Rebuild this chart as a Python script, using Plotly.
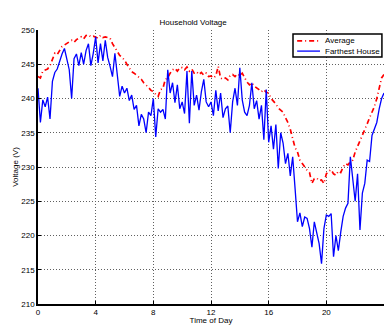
import numpy as np
import plotly.graph_objects as go

# time of day, every 10 minutes
hours = [i / 6 for i in range(145)]

average = [
    243.2, 243.0, 244.0, 244.2, 244.3, 244.8,
    245.8, 246.6, 246.4, 247.0, 247.6, 247.8,
    248.0, 248.3, 248.5, 248.2, 248.6, 248.8,
    249.0, 248.7, 249.2, 249.3, 249.0, 249.1,
    249.0, 248.8, 249.2, 248.9, 249.0, 248.9,
    248.8, 248.0, 247.4, 247.0, 246.3, 246.0,
    245.6, 245.0, 244.5, 243.9, 243.7, 243.4,
    243.0, 242.8, 242.3, 242.0, 241.6, 241.2,
    241.0, 240.6, 240.3, 241.3, 241.5, 242.8,
    243.0, 243.7, 244.2, 244.4, 244.0, 244.5,
    244.5, 244.2, 244.6, 244.0, 244.3, 243.7,
    243.9, 243.5, 243.8, 243.4, 243.7, 243.2,
    243.3, 243.0, 243.3, 244.7, 243.0, 242.8,
    243.0, 242.7, 243.4, 243.5, 243.2, 243.6,
    243.3, 243.7, 243.0, 242.4, 242.0, 242.3,
    241.8, 241.6, 241.3, 241.0, 241.3, 240.9,
    240.8, 240.0, 239.6, 239.2, 238.6, 238.3,
    238.0, 237.2, 236.5, 235.5, 234.0, 232.8,
    232.2, 231.0, 230.5, 230.0, 229.5, 229.2,
    227.6, 228.3, 228.4, 228.0, 228.1, 227.6,
    229.0, 229.4, 229.6, 229.0, 228.8, 229.4,
    229.2, 230.0, 230.5, 230.3, 230.8, 231.0,
    232.2, 233.0, 233.8, 234.5, 235.5, 236.3,
    237.2, 238.0, 238.8, 240.0, 241.5, 243.0,
    243.5,
]

farthest = [
    241.5, 236.5, 239.8, 238.8, 240.2, 237.0,
    242.5, 243.8, 244.3, 245.6, 246.5, 247.3,
    245.5, 244.2, 240.0, 245.8, 246.5, 244.8,
    246.7, 245.0, 247.0, 248.0, 244.8, 246.6,
    249.0, 245.2, 248.0, 245.5, 248.5, 246.0,
    244.7, 243.2, 246.6, 243.7, 240.3, 241.8,
    240.8, 241.5, 239.7, 240.5, 238.4, 239.0,
    236.0, 237.7, 237.0, 235.0, 238.0, 237.5,
    240.0, 234.4, 238.5, 238.0, 238.4, 237.0,
    244.2, 240.8, 242.3, 239.4, 242.0, 238.5,
    239.5, 237.8, 244.0, 236.4, 244.0, 239.0,
    240.5, 238.3, 241.0, 242.8, 239.5, 238.8,
    239.5, 237.5, 241.2, 238.2, 240.8, 237.2,
    238.5, 238.9, 235.0, 239.5, 241.5, 239.0,
    244.5, 239.8, 238.0, 237.5, 239.0, 242.3,
    238.5, 239.7, 237.0, 239.0, 234.0, 241.3,
    233.6, 236.0, 232.6, 236.2, 229.8, 235.0,
    233.5, 230.5, 232.0, 228.7, 231.5, 226.8,
    222.0, 223.3, 221.3, 222.7, 222.5, 221.0,
    218.3, 222.0, 220.5, 218.8, 215.9, 221.0,
    223.0, 222.8, 223.2, 216.9, 220.0, 217.8,
    220.5, 222.8, 224.0, 224.7, 231.5, 228.3,
    225.0, 229.0, 220.8, 226.2, 227.6, 231.0,
    230.8, 234.6, 235.5, 236.5, 238.5, 240.0,
    240.8,
]

x_ticks = [0, 4, 8, 12, 16, 20, 24]
y_ticks = [210, 215, 220, 225, 230, 235, 240, 245, 250]

FONT = "Liberation Sans, Arial"
RED_LINE = dict(color="#ff0000", width=1.7, dash="5px,3px,1px,3px")
BLUE_LINE = dict(color="#0000ff", width=1.3)

fig = go.Figure()
fig.add_trace(go.Scatter(x=hours, y=average, mode="lines", name="Average",
                         line=RED_LINE, showlegend=False))
fig.add_trace(go.Scatter(x=hours, y=farthest, mode="lines", name="Farthest House",
                         line=BLUE_LINE, showlegend=False))

axis_common = dict(
    showline=True, linecolor="black", linewidth=1.5,
    ticks="inside", ticklen=3, tickcolor="black",
    showgrid=True, gridcolor="#606060", gridwidth=1, griddash="1px,2px",
    zeroline=False, mirror=False,
    tickfont=dict(family=FONT, size=8, color="black"),
)

# compact Matlab-style legend box (paper coordinates)
legend_box = dict(x0=0.737, x1=0.994, y0=0.9015, y1=0.985)
legend_rows = [("Average", RED_LINE, 0.960), ("Farthest House", BLUE_LINE, 0.923)]

shapes = [dict(type="rect", xref="paper", yref="paper", **legend_box,
               line=dict(color="black", width=1.5), fillcolor="white", layer="above")]
annotations = []
for label, ln, yy in legend_rows:
    shapes.append(dict(type="line", xref="paper", yref="paper",
                       x0=0.749, x1=0.815, y0=yy, y1=yy,
                       line=dict(color=ln["color"], width=ln["width"],
                                 dash=ln.get("dash", "solid")), layer="above"))
    annotations.append(dict(text=label, xref="paper", yref="paper", x=0.824, y=yy,
                            xanchor="left", yanchor="middle", showarrow=False,
                            font=dict(family=FONT, size=8, color="black")))

fig.update_layout(
    width=384, height=325,
    margin=dict(l=38, r=0, t=30, b=21),
    paper_bgcolor="white", plot_bgcolor="white",
    title=dict(text="Household Voltage", x=0.503, xanchor="center",
               y=1 - 22 / 325, yanchor="middle",
               font=dict(family=FONT, size=8, color="black")),
    xaxis=dict(range=[0, 24], tickvals=x_ticks, ticktext=[str(v) for v in x_ticks],
               title=dict(text="Time of Day", standoff=2,
                          font=dict(family=FONT, size=8, color="black")),
               **axis_common),
    yaxis=dict(range=[210, 250], tickvals=y_ticks, ticktext=[str(v) for v in y_ticks],
               title=dict(text="Voltage (V)", standoff=1,
                          font=dict(family=FONT, size=8, color="black")),
               **axis_common),
    shapes=shapes,
    annotations=annotations,
    showlegend=False,
)

fig.write_html("out.html")
